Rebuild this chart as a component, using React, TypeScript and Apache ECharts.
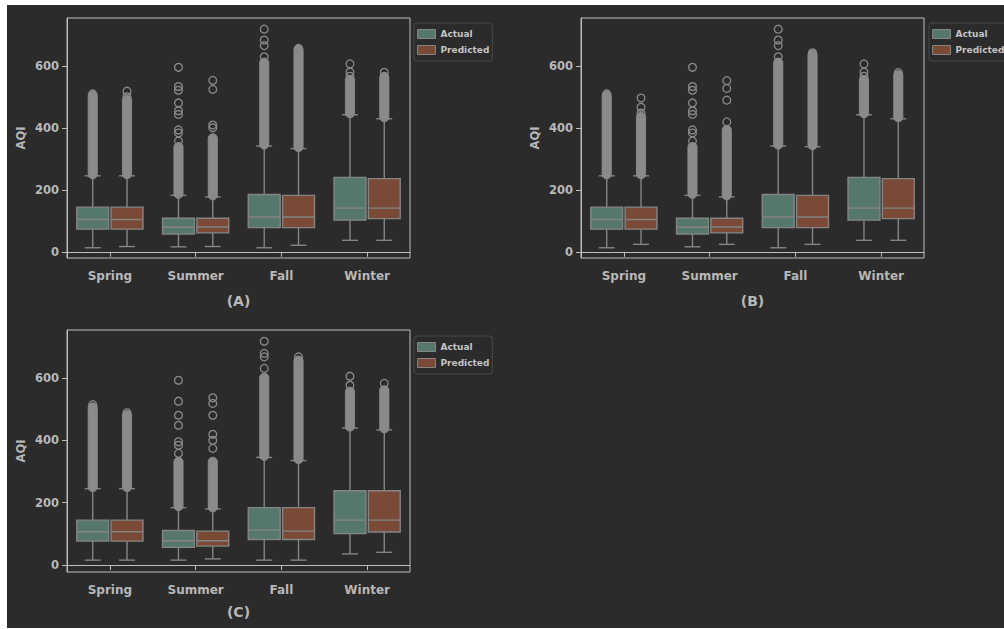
import React, { useEffect, useRef } from "react";
import * as echarts from "echarts";

const seasons = ["Spring", "Summer", "Fall", "Winter"];
const yTickValues = [0, 200, 400, 600];
const panelTitles = ["(A)", "(B)", "(C)"];
const groupNames = ["Actual", "Predicted"];

// box statistics per season: [lower whisker, Q1, median, Q3, upper whisker]
const actualStatsA = [[13, 73, 104, 144, 245], [16, 57, 79, 108, 182], [13, 78, 112, 185, 341], [37, 102, 141, 240, 442]];
const predictedStatsA = [[17, 73, 104, 144, 245], [17, 61, 80, 108, 177], [21, 78, 112, 182, 333], [37, 107, 141, 236, 429]];
const actualStatsB = [[13, 73, 104, 144, 245], [16, 57, 79, 108, 182], [13, 78, 112, 185, 341], [37, 102, 141, 240, 442]];
const predictedStatsB = [[24, 73, 104, 144, 245], [24, 61, 80, 108, 177], [24, 78, 112, 182, 339], [37, 107, 141, 236, 429]];
const actualStatsC = [[16, 77, 107, 144, 245], [16, 57, 78, 111, 184], [16, 82, 112, 184, 345], [36, 101, 144, 238, 439]];
const predictedStatsC = [[16, 77, 107, 144, 245], [20, 61, 78, 109, 180], [16, 82, 109, 184, 335], [41, 106, 144, 238, 433]];

// ranges where outliers are so dense they form a solid column: [from, to]
const actualDenseA = [[250, 503], [187, 338], [346, 610], [447, 554]];
const predictedDenseA = [[250, 490], [182, 366], [338, 652], [434, 562]];
const actualDenseB = [[250, 503], [187, 338], [346, 610], [447, 554]];
const predictedDenseB = [[250, 435], [182, 393], [344, 636], [434, 570]];
const actualDenseC = [[250, 505], [189, 331], [350, 600], [444, 555]];
const predictedDenseC = [[250, 480], [185, 331], [340, 655], [438, 560]];

// separate outliers per season
const actualSparseA = [[509], [595, 533, 521, 480, 455, 443, 393, 383, 357], [718, 683, 665, 629], [606, 580, 566]];
const predictedSparseA = [[518, 500, 480], [553, 524, 409, 400], [656], [579, 566]];
const actualSparseB = [[509], [595, 533, 521, 480, 455, 443, 393, 383, 357], [718, 683, 665, 629], [606, 580, 566]];
const predictedSparseB = [[496, 466, 447], [552, 527, 489, 419], [642], [578]];
const actualSparseC = [[514], [592, 525, 480, 448, 395, 384, 358], [717, 678, 667, 630], [605, 576]];
const predictedSparseC = [[488], [536, 518, 480, 419, 400, 374], [667], [582]];

const BG = "#2b2b2b";
const TEXT = "#b8b8b8";
const FRAME = "#bdbdbd";
const EDGE = "#858585";
const ACTUAL_COLOR = "#56786a";
const PREDICTED_COLOR = "#7a4a36";
const FONT = "DejaVu Sans";

const panels = [
  { actual: actualStatsA, predicted: predictedStatsA, aDense: actualDenseA, pDense: predictedDenseA, aSparse: actualSparseA, pSparse: predictedSparseA, grid: { left: 60, top: 13, width: 343, height: 240 }, yMin: -20, yMax: 754, legend: { left: 407, top: 18 }, titleGap: 36 },
  { actual: actualStatsB, predicted: predictedStatsB, aDense: actualDenseB, pDense: predictedDenseB, aSparse: actualSparseB, pSparse: predictedSparseB, grid: { left: 574, top: 13, width: 343, height: 240 }, yMin: -20, yMax: 754, legend: { left: 922, top: 18 }, titleGap: 36 },
  { actual: actualStatsC, predicted: predictedStatsC, aDense: actualDenseC, pDense: predictedDenseC, aSparse: actualSparseC, pSparse: predictedSparseC, grid: { left: 60, top: 325, width: 343, height: 242 }, yMin: -22, yMax: 753, legend: { left: 407, top: 331 }, titleGap: 33 },
];

function boxSeries(name: string, stats: number[][], idx: number, side: number, color: string) {
  return {
    type: "custom",
    name,
    xAxisIndex: idx,
    yAxisIndex: idx,
    data: stats.map((s, i) => [i, ...s]),
    encode: { x: 0, y: [1, 2, 3, 4, 5] },
    itemStyle: { color },
    z: 2,
    renderItem: (params: any, api: any) => {
      const ci = api.value(0);
      const bw = api.size([1, 0])[0];
      const cx = api.coord([ci, 0])[0] + side * 0.2 * bw;
      const w = bw * 0.372;
      const cap = w * 0.5;
      const y = [1, 2, 3, 4, 5].map((k) => api.coord([ci, api.value(k)])[1]);
      const ls = { stroke: EDGE, lineWidth: 1.4, fill: null };
      return {
        type: "group",
        children: [
          { type: "line", shape: { x1: cx, y1: y[0], x2: cx, y2: y[1] }, style: ls },
          { type: "line", shape: { x1: cx, y1: y[3], x2: cx, y2: y[4] }, style: ls },
          { type: "line", shape: { x1: cx - cap / 2, y1: y[0], x2: cx + cap / 2, y2: y[0] }, style: ls },
          { type: "line", shape: { x1: cx - cap / 2, y1: y[4], x2: cx + cap / 2, y2: y[4] }, style: ls },
          { type: "rect", shape: { x: cx - w / 2, y: y[3], width: w, height: y[1] - y[3] }, style: { fill: color, stroke: EDGE, lineWidth: 1.4 } },
          { type: "line", shape: { x1: cx - w / 2, y1: y[2], x2: cx + w / 2, y2: y[2] }, style: ls },
        ],
      };
    },
  };
}

function denseSeries(name: string, ranges: number[][], idx: number, side: number) {
  return {
    type: "custom",
    name,
    xAxisIndex: idx,
    yAxisIndex: idx,
    data: ranges.map((r, i) => [i, r[0], r[1]]),
    encode: { x: 0, y: [1, 2] },
    z: 3,
    renderItem: (params: any, api: any) => {
      const ci = api.value(0);
      const bw = api.size([1, 0])[0];
      const cx = api.coord([ci, 0])[0] + side * 0.2 * bw;
      const yLo = api.coord([ci, api.value(1)])[1];
      const yHi = api.coord([ci, api.value(2)])[1];
      const r = 4.6;
      return {
        type: "rect",
        shape: { x: cx - r, y: yHi - r, width: 2 * r, height: yLo - yHi + 2 * r, r },
        style: { fill: "#8a8a8a", stroke: "#8f8f8f", lineWidth: 0.8 },
      };
    },
  };
}

function sparseSeries(name: string, lists: number[][], idx: number, side: number) {
  const data: number[][] = [];
  lists.forEach((l, i) => l.forEach((v) => data.push([i, v])));
  return {
    type: "custom",
    name,
    xAxisIndex: idx,
    yAxisIndex: idx,
    data,
    encode: { x: 0, y: 1 },
    z: 3,
    renderItem: (params: any, api: any) => {
      const ci = api.value(0);
      const bw = api.size([1, 0])[0];
      const p = api.coord([ci, api.value(1)]);
      return {
        type: "circle",
        shape: { cx: p[0] + side * 0.2 * bw, cy: p[1], r: 3.9 },
        style: { fill: null, stroke: "#8a8a8a", lineWidth: 1.3 },
      };
    },
  };
}

export default function App() {
  const ref = useRef<HTMLDivElement>(null);
  useEffect(() => {
    document.body.style.margin = "0";
    if (!ref.current) return;
    const chart = echarts.init(ref.current, undefined, { renderer: "svg" });
    const grids: any[] = [];
    const xAxes: any[] = [];
    const yAxes: any[] = [];
    const legends: any[] = [];
    const series: any[] = [];
    panels.forEach((p, idx) => {
      grids.push({ ...p.grid, show: true, borderColor: FRAME, borderWidth: 1, backgroundColor: "transparent", containLabel: false });
      xAxes.push({
        type: "category",
        gridIndex: idx,
        data: seasons,
        boundaryGap: true,
        axisLine: { show: true, lineStyle: { color: FRAME, width: 1 } },
        axisTick: { show: true, alignWithLabel: true, length: 5, lineStyle: { color: FRAME } },
        axisLabel: { color: TEXT, fontFamily: FONT, fontWeight: "bold", fontSize: 12, margin: 12 },
        splitLine: { show: false },
        name: panelTitles[idx],
        nameLocation: "middle",
        nameGap: p.titleGap,
        nameTextStyle: { color: TEXT, fontFamily: FONT, fontWeight: "bold", fontSize: 14 },
      });
      yAxes.push({
        type: "value",
        gridIndex: idx,
        min: p.yMin,
        max: p.yMax,
        axisLine: { show: true, lineStyle: { color: FRAME, width: 1 } },
        axisTick: { show: true, length: 5, lineStyle: { color: FRAME }, customValues: yTickValues },
        axisLabel: { color: TEXT, fontFamily: FONT, fontWeight: "bold", fontSize: 11.5, margin: 8, customValues: yTickValues },
        splitLine: { show: false },
        name: "AQI",
        nameLocation: "middle",
        nameGap: 40,
        nameTextStyle: { color: TEXT, fontFamily: FONT, fontWeight: "bold", fontSize: 11.5 },
      });
      legends.push({
        left: p.legend.left,
        top: p.legend.top,
        orient: "vertical",
        icon: "rect",
        itemWidth: 18,
        itemHeight: 9,
        itemGap: 4,
        padding: [5, 3, 5, 3],
        selectedMode: false,
        borderColor: "#4a4a4a",
        borderWidth: 1,
        borderRadius: 3,
        backgroundColor: BG,
        textStyle: { color: "#c4c4c4", fontFamily: FONT, fontWeight: "bold", fontSize: 9, lineHeight: 12 },
        data: [
          { name: groupNames[0], itemStyle: { color: ACTUAL_COLOR, borderColor: EDGE, borderWidth: 1 } },
          { name: groupNames[1], itemStyle: { color: PREDICTED_COLOR, borderColor: EDGE, borderWidth: 1 } },
        ],
      });
      series.push(boxSeries(groupNames[0], p.actual, idx, -1, ACTUAL_COLOR));
      series.push(boxSeries(groupNames[1], p.predicted, idx, 1, PREDICTED_COLOR));
      series.push(denseSeries("Actual outliers dense", p.aDense, idx, -1));
      series.push(denseSeries("Predicted outliers dense", p.pDense, idx, 1));
      series.push(sparseSeries("Actual outliers", p.aSparse, idx, -1));
      series.push(sparseSeries("Predicted outliers", p.pSparse, idx, 1));
    });
    chart.setOption({
      animation: false,
      backgroundColor: BG,
      textStyle: { fontFamily: FONT },
      grid: grids,
      xAxis: xAxes,
      yAxis: yAxes,
      legend: legends,
      series,
    });
    return () => chart.dispose();
  }, []);
  return (
    <div
      ref={ref}
      style={{ position: "absolute", left: 7, top: 5, width: 997, height: 623, background: BG }}
    />
  );
}
